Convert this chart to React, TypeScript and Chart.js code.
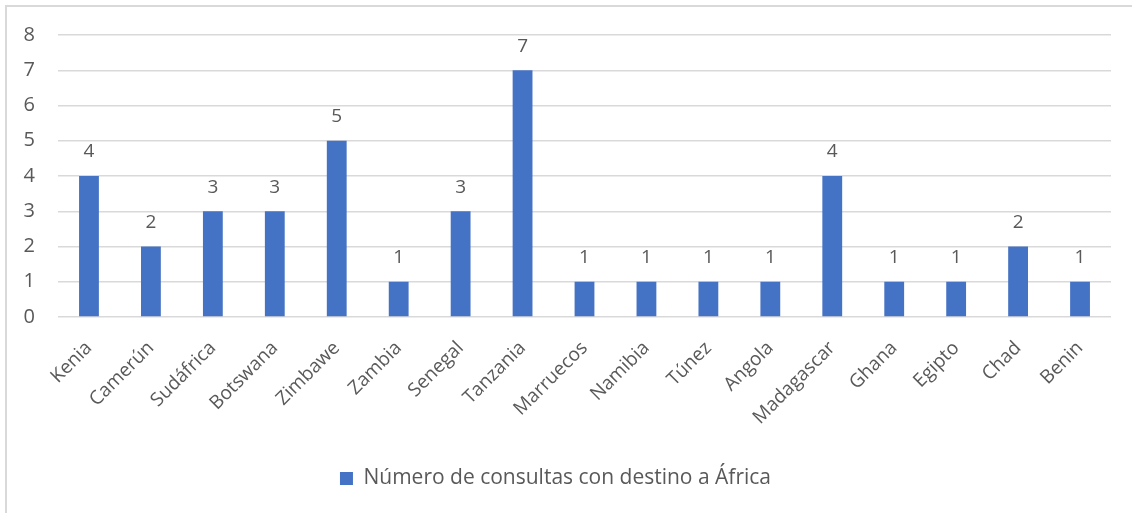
import React, { useEffect, useRef } from "react";
import { Chart, registerables } from "chart.js";

Chart.register(...registerables);

const categories = [
  "Kenia", "Camerún", "Sudáfrica", "Botswana", "Zimbawe", "Zambia", "Senegal", "Tanzania",
  "Marruecos", "Namibia", "Túnez", "Angola", "Madagascar", "Ghana", "Egipto", "Chad", "Benin",
];
const seriesLabel = "Número de consultas con destino a África";
const values = [4, 2, 3, 3, 5, 1, 3, 7, 1, 1, 1, 1, 4, 1, 1, 2, 1];
const yTicks = [0, 1, 2, 3, 4, 5, 6, 7, 8];

const FONT = "'Open Sans', sans-serif";
const TEXT = "#595959";

const dataLabels = {
  id: "dataLabels",
  afterDatasetsDraw(chart: any) {
    const ctx = chart.ctx;
    const meta = chart.getDatasetMeta(0);
    ctx.save();
    ctx.fillStyle = TEXT;
    ctx.font = `19px ${FONT}`;
    ctx.textAlign = "center";
    ctx.textBaseline = "middle";
    meta.data.forEach((bar: any, i: number) => {
      ctx.fillText(String(chart.data.datasets[0].data[i]), bar.x, bar.y - 24);
    });
    ctx.restore();
  },
};

export default function App() {
  const ref = useRef<HTMLCanvasElement>(null);
  useEffect(() => {
    const chart = new Chart(ref.current!, {
      type: "bar",
      data: {
        labels: categories,
        datasets: [
          {
            label: seriesLabel,
            data: values,
            backgroundColor: "#4472C4",
            barPercentage: 0.64,
            categoryPercentage: 0.5,
          },
        ],
      },
      options: {
        animation: false,
        responsive: false,
        maintainAspectRatio: false,
        layout: { padding: { top: 35, right: 21, bottom: 14, left: 0 } },
        plugins: {
          tooltip: { enabled: false },
          legend: {
            position: "bottom",
            labels: {
              color: TEXT,
              font: { family: FONT, size: 21 },
              boxWidth: 13,
              boxHeight: 13,
              padding: 9,
            },
          },
        },
        scales: {
          x: {
            grid: { display: false },
            border: { display: false },
            ticks: {
              color: TEXT,
              font: { family: FONT, size: 19 },
              maxRotation: 45,
              minRotation: 45,
              autoSkip: false,
              padding: 12,
            },
            afterFit(scale: any) {
              scale.height = 142;
            },
          },
          y: {
            min: 0,
            max: 8,
            afterBuildTicks(scale: any) {
              scale.ticks = yTicks.map((v) => ({ value: v }));
            },
            grid: { color: "#d9d9d9", lineWidth: 1.5, drawTicks: false },
            border: { display: false },
            ticks: {
              color: TEXT,
              font: { family: FONT, size: 20 },
              padding: 23,
            },
            afterFit(scale: any) {
              scale.width = 58;
            },
          },
        },
      },
      plugins: [dataLabels],
    } as any);
    return () => chart.destroy();
  }, []);

  return (
    <div style={{ position: "fixed", left: 0, top: 0, width: 1132, height: 513, overflow: "hidden", background: "#fff" }}>
      <div
        style={{
          position: "absolute",
          left: 5,
          top: 5,
          width: 1140,
          height: 520,
          border: "2px solid #d9d9d9",
        }}
      />
      <canvas ref={ref} width={1132} height={513} style={{ position: "absolute", left: 0, top: 0 }} />
    </div>
  );
}
